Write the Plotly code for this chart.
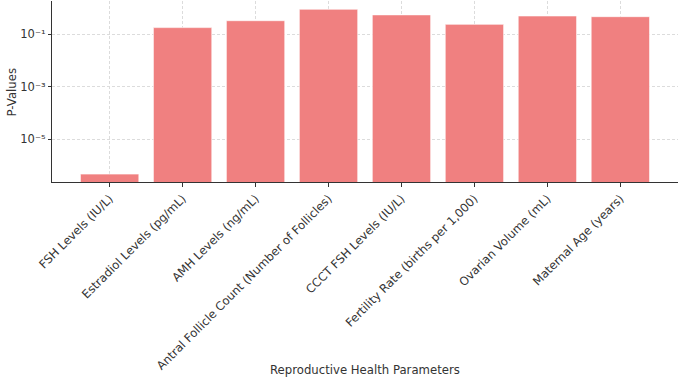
import plotly.graph_objects as go

categories = [
    "FSH Levels (IU/L)",
    "Estradiol Levels (pg/mL)",
    "AMH Levels (ng/mL)",
    "Antral Follicle Count (Number of Follicles)",
    "CCCT FSH Levels (IU/L)",
    "Fertility Rate (births per 1,000)",
    "Ovarian Volume (mL)",
    "Maternal Age (years)",
]
p_values = [4.7e-7, 0.18, 0.33, 0.90, 0.55, 0.24, 0.50, 0.47]

y_tickvals = [1e-5, 1e-3, 1e-1]
y_ticktext = ["10\u207b\u2075", "10\u207b\u00b3", "10\u207b\u00b9"]

x_title = "Reproductive Health Parameters"
y_title = "P-Values"

fig = go.Figure(
    go.Bar(
        x=list(range(len(categories))),
        y=p_values,
        width=0.8,
        marker=dict(color="#F08080", line=dict(color="rgba(255,255,255,0.6)", width=1)),
    )
)

font_color = "#333333"
grid_color = "#dcdcdc"
fig.update_layout(
    width=685,
    height=385,
    margin=dict(l=52, r=7, t=1, b=203),
    plot_bgcolor="white",
    paper_bgcolor="white",
    font=dict(family="DejaVu Sans", size=11.7, color=font_color),
    showlegend=False,
    annotations=[
        dict(text=x_title, xref="paper", yref="paper", x=0.5, y=-1.039,
             xanchor="center", yanchor="middle", showarrow=False,
             font=dict(size=11.7, color=font_color)),
        dict(text=y_title, xref="paper", yref="paper", x=-0.0639, y=0.5,
             xanchor="center", yanchor="middle", textangle=-90, showarrow=False,
             font=dict(size=11.7, color=font_color)),
    ],
)
fig.update_xaxes(
    automargin=False,
    range=[-0.79, 7.79],
    tickmode="array",
    tickvals=list(range(len(categories))),
    ticktext=categories,
    tickangle=-45,
    ticks="outside",
    ticklen=4,
    tickcolor=font_color,
    showline=True,
    linecolor=font_color,
    linewidth=1.2,
    showgrid=True,
    gridcolor=grid_color,
    griddash="3px,2px",
    gridwidth=0.8,
    zeroline=False,
    tickfont=dict(size=11.7, color=font_color),
)
fig.update_yaxes(
    automargin=False,
    type="log",
    range=[-6.63, 0.27],
    tickmode="array",
    tickvals=y_tickvals,
    ticktext=y_ticktext,
    ticks="outside",
    ticklen=3,
    tickcolor=font_color,
    showline=True,
    linecolor=font_color,
    linewidth=1.2,
    showgrid=True,
    gridcolor=grid_color,
    griddash="3px,2px",
    gridwidth=0.8,
    zeroline=False,
    tickfont=dict(size=11.5, color=font_color),
)

fig.write_html(
    "out.html",
    config={"displayModeBar": False},
    post_script="document.body.style.margin='0';document.body.style.padding='0';",
)
